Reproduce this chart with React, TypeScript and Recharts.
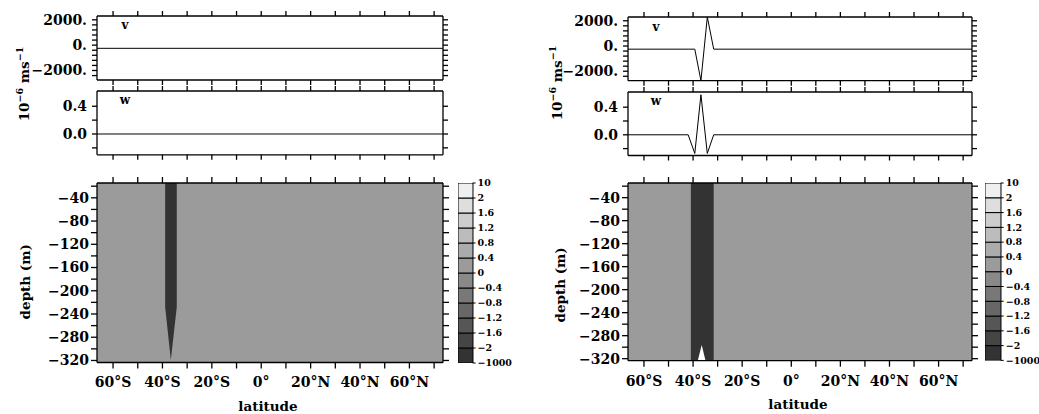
import React from 'react';
import { ComposedChart, LineChart, BarChart, Line, Area, Bar, XAxis, YAxis, Label } from 'recharts';

const FONT = "'DejaVu Serif', serif";
const INK = '#000';

// latitude axis (shared by every panel)
const latDomain: [number, number] = [-66.5, 73.6];
const latTicks = [-60, -50, -40, -30, -20, -10, 0, 10, 20, 30, 40, 50, 60, 70];
const latLabelled = [-60, -40, -20, 0, 20, 40, 60];

// v panel, 10^-6 m/s
const vDomain: [number, number] = [-2750, 2300];
const vTicks = [-2400, -2000, -1600, -1200, -800, -400, 0, 400, 800, 1200, 1600, 2000];
const vLabelled = [-2000, 0, 2000];

// w panel
const wDomain: [number, number] = [-0.3, 0.62];
const wTicks = [-0.2, 0, 0.2, 0.4];
const wLabelled = [0, 0.4];

// depth section
const depthDomain: [number, number] = [-323.5, -14.5];
const depthTicks = [-320, -300, -280, -260, -240, -220, -200, -180, -160, -140, -120, -100, -80, -60, -40, -20];
const depthLabelled = [-320, -280, -240, -200, -160, -120, -80, -40];

// left case: flat profiles
const leftLat = [-66.5, 73.6];
const leftV = [-250, -250];
const leftW = [0, 0];

// right case: a single wiggle near 37S
const rightLat = [-66.5, -42.0, -39.3, -36.8, -34.2, -31.6, 73.6];
const rightV = [-250, -250, -250, -2750, 2300, -250, -250];
const rightW = [0, 0, -0.27, 0.58, -0.27, 0, 0];

// shaded section: background band and the dark plume
const fieldLat = [-66.5, 73.6];
const fieldTop = [-14.5, -14.5];
const fieldBottom = [-323.5, -323.5];

const plumeLeftLat = [-38.9, -36.6, -34.2];
const plumeLeftTop = [-14.5, -14.5, -14.5];
const plumeLeftBottom = [-228, -319, -228];

const plumeRightLat = [-40.9, -31.6];
const plumeRightTop = [-14.5, -14.5];
const plumeRightBottom = [-323.5, -323.5];

const notchRightLat = [-38.1, -36.5, -34.9];
const notchRightTop = [-323.5, -296, -323.5];
const notchRightBottom = [-323.5, -323.5, -323.5];

// colour bar, bottom to top
const levels = ['-1000', '-2', '-1.6', '-1.2', '-0.8', '-0.4', '0', '0.4', '0.8', '1.2', '1.6', '2', '10'];
const levelFills = ['#333333', '#454545', '#565656', '#676767', '#787878', '#898989', '#9b9b9b', '#ababab', '#bcbcbc', '#cdcdcd', '#dedede', '#efefef'];

const minus = (s: string) => s.replace('-', '\u2212');
const latName = (v: number) => (v === 0 ? '0°' : v < 0 ? `${-v}°S` : `${v}°N`);
const band = (xs: number[], lo: number[], hi: number[]) => xs.map((x, i) => ({ lat: x, band: [lo[i], hi[i]] }));
const blank = () => '';

const tickFont = { fill: INK, fontSize: 14, fontFamily: FONT, fontWeight: 700 };
const edge = { stroke: INK, strokeWidth: 1.3 };
const zero = { top: 0, right: 0, bottom: 0, left: 0 };

type Frame = { x0: number; y0: number; x1: number; y1: number };

function ProfilePanel({ f, lat, values, domain, ticks, labelled, fmt, tag }: {
  f: Frame; lat: number[]; values: number[]; domain: [number, number];
  ticks: number[]; labelled: number[]; fmt: (v: number) => string; tag: string;
}) {
  const p = { l: 74, r: 8, t: 7, b: 7 };
  const width = f.x1 - f.x0 + p.l + p.r;
  const height = f.y1 - f.y0 + p.t + p.b;
  const data = lat.map((x, i) => ({ lat: x, val: values[i] }));
  return (
    <div style={{ position: 'absolute', left: f.x0 - p.l, top: f.y0 - p.t, width, height }}>
      <LineChart width={width} height={height} data={data} margin={zero}>
        <XAxis xAxisId="bottom" dataKey="lat" type="number" domain={latDomain} allowDataOverflow ticks={latTicks}
          interval={0} tick={tickFont} tickFormatter={blank} tickSize={5} height={p.b} axisLine={edge} tickLine={edge} />
        <XAxis xAxisId="top" orientation="top" dataKey="lat" type="number" domain={latDomain} allowDataOverflow
          ticks={latTicks} interval={0} tick={tickFont} tickFormatter={blank} tickSize={5} height={p.t}
          axisLine={edge} tickLine={edge} />
        <YAxis yAxisId="left" type="number" domain={domain} allowDataOverflow ticks={ticks} interval={0} width={p.l}
          tickSize={5} tickMargin={5} tick={tickFont} axisLine={edge} tickLine={edge}
          tickFormatter={(v: number) => (labelled.includes(v) ? fmt(v) : '')} />
        <YAxis yAxisId="right" orientation="right" type="number" domain={domain} allowDataOverflow ticks={ticks}
          interval={0} width={p.r} tickSize={5} tick={tickFont} tickFormatter={blank} axisLine={edge} tickLine={edge} />
        <Line xAxisId="bottom" yAxisId="left" dataKey="val" type="linear" stroke={INK} strokeWidth={1}
          dot={false} isAnimationActive={false} />
      </LineChart>
      <div style={{
        position: 'absolute', left: p.l + 28, top: p.t + 9.5, transform: 'translate(-50%, -50%)',
        font: `700 12px ${FONT}`, lineHeight: 1, color: INK,
      }}>{tag}</div>
    </div>
  );
}

function SectionPanel({ f, plumes, depthDx, depthDy }: {
  f: Frame; plumes: { data: { lat: number; band: number[] }[]; fill: string }[]; depthDx: number; depthDy: number;
}) {
  const p = { l: 97, r: 8, t: 7, b: 52 };
  const width = f.x1 - f.x0 + p.l + p.r;
  const height = f.y1 - f.y0 + p.t + p.b;
  const titleFont = { fill: INK, fontSize: 13.5, fontFamily: FONT, fontWeight: 700 };
  return (
    <div style={{ position: 'absolute', left: f.x0 - p.l, top: f.y0 - p.t, width, height }}>
      <ComposedChart width={width} height={height} margin={zero}>
        <XAxis xAxisId="bottom" dataKey="lat" type="number" domain={latDomain} allowDataOverflow ticks={latTicks}
          interval={0} tickSize={6} tickMargin={9} tick={tickFont} height={p.b} axisLine={edge} tickLine={edge}
          tickFormatter={(v: number) => (latLabelled.includes(v) ? latName(v) : '')}>
          <Label content={(props: any) => {
            const vb = props.viewBox;
            return (
              <text x={vb.x + vb.width / 2 - 2} y={vb.y + 48} textAnchor="middle" {...titleFont}>latitude</text>
            );
          }} />
        </XAxis>
        <XAxis xAxisId="top" orientation="top" dataKey="lat" type="number" domain={latDomain} allowDataOverflow
          ticks={latTicks} interval={0} tick={tickFont} tickFormatter={blank} tickSize={6} height={p.t}
          axisLine={edge} tickLine={edge} />
        <YAxis yAxisId="left" type="number" domain={depthDomain} allowDataOverflow ticks={depthTicks} interval={0}
          width={p.l} tickSize={6} tickMargin={2} tick={tickFont} axisLine={edge} tickLine={edge}
          tickFormatter={(v: number) => (depthLabelled.includes(v) ? minus(String(v)) : '')}>
          <Label content={(props: any) => {
            const vb = props.viewBox;
            const cx = vb.x + vb.width - depthDx;
            const cy = vb.y + vb.height / 2 + depthDy;
            return (
              <text x={cx} y={cy} transform={`rotate(-90 ${cx} ${cy})`} textAnchor="middle"
                dominantBaseline="central" {...titleFont}>depth (m)</text>
            );
          }} />
        </YAxis>
        <YAxis yAxisId="right" orientation="right" type="number" domain={depthDomain} allowDataOverflow
          ticks={depthTicks} interval={0} width={p.r} tickSize={6} tick={tickFont} tickFormatter={blank}
          axisLine={edge} tickLine={edge} />
        <Area xAxisId="bottom" yAxisId="left" data={band(fieldLat, fieldBottom, fieldTop)} dataKey="band"
          type="linear" fill={levelFills[6]} fillOpacity={1} stroke="none" isAnimationActive={false} />
        {plumes.map((pl, i) => (
          <Area key={i} xAxisId="bottom" yAxisId="left" data={pl.data} dataKey="band" type="linear"
            fill={pl.fill} fillOpacity={1} stroke="none" isAnimationActive={false} />
        ))}
      </ComposedChart>
    </div>
  );
}

function ColorBar({ f }: { f: Frame }) {
  const p = { l: 0, r: 48, t: 6, b: 6 };
  const width = f.x1 - f.x0 + p.l + p.r;
  const height = f.y1 - f.y0 + p.t + p.b;
  const row: Record<string, number | string> = { k: 'bar' };
  levelFills.forEach((_, i) => { row[`b${i}`] = 1; });
  const idx = levels.map((_, i) => i);
  return (
    <div style={{ position: 'absolute', left: f.x0 - p.l, top: f.y0 - p.t, width, height }}>
      <BarChart width={width} height={height} data={[row]} margin={{ top: p.t, right: 0, bottom: p.b, left: p.l }}
        barCategoryGap={0}>
        <XAxis dataKey="k" hide />
        <YAxis orientation="right" type="number" domain={[0, levelFills.length]} allowDataOverflow ticks={idx}
          interval={0} width={p.r} tickSize={3} tickMargin={2} axisLine={false} tickLine={{ stroke: INK }}
          tick={{ fill: INK, fontSize: 9.5, fontFamily: FONT, fontWeight: 700 }}
          tickFormatter={(i: number) => minus(levels[i])} />
        {levelFills.map((fill, i) => (
          <Bar key={i} dataKey={`b${i}`} stackId="cb" fill={fill} stroke={INK} strokeWidth={1}
            isAnimationActive={false} />
        ))}
      </BarChart>
    </div>
  );
}

function UnitLabel({ cx, cy }: { cx: number; cy: number }) {
  return (
    <div style={{
      position: 'absolute', left: cx, top: cy, transform: 'translate(-50%, -50%) rotate(-90deg)',
      font: `700 13.5px ${FONT}`, whiteSpace: 'nowrap', color: INK, lineHeight: 1.2,
    }}>
      10<sup style={{ fontSize: 9.5 }}>{'\u22126'}</sup> ms<sup style={{ fontSize: 9.5 }}>{'\u22121'}</sup>
    </div>
  );
}

export default function App() {
  const vFmt = (v: number) => minus(`${v}.`);
  const wFmt = (v: number) => v.toFixed(1);
  return (
    <div style={{ position: 'absolute', left: 0, top: 0, width: 1039, height: 414, background: '#fff', overflow: 'hidden' }}>
      {/* left case */}
      <UnitLabel cx={22.5} cy={84} />
      <ProfilePanel f={{ x0: 97, y0: 15.5, x1: 443, y1: 79.5 }} lat={leftLat} values={leftV} domain={vDomain}
        ticks={vTicks} labelled={vLabelled} fmt={vFmt} tag="v" />
      <ProfilePanel f={{ x0: 97, y0: 90.5, x1: 443, y1: 154.3 }} lat={leftLat} values={leftW} domain={wDomain}
        ticks={wTicks} labelled={wLabelled} fmt={wFmt} tag="w" />
      <SectionPanel f={{ x0: 97, y0: 182.5, x1: 443, y1: 362 }} depthDx={72} depthDy={9}
        plumes={[{ data: band(plumeLeftLat, plumeLeftBottom, plumeLeftTop), fill: levelFills[0] }]} />
      <ColorBar f={{ x0: 457.7, y0: 182.5, x1: 472.3, y1: 362.5 }} />

      {/* right case */}
      <UnitLabel cx={555.5} cy={83} />
      <ProfilePanel f={{ x0: 628, y0: 17, x1: 972, y1: 80.7 }} lat={rightLat} values={rightV} domain={vDomain}
        ticks={vTicks} labelled={vLabelled} fmt={vFmt} tag="v" />
      <ProfilePanel f={{ x0: 628, y0: 91.5, x1: 972, y1: 155 }} lat={rightLat} values={rightW} domain={wDomain}
        ticks={wTicks} labelled={wLabelled} fmt={wFmt} tag="w" />
      <SectionPanel f={{ x0: 628, y0: 183.3, x1: 972, y1: 361 }} depthDx={68} depthDy={13}
        plumes={[
          { data: band(plumeRightLat, plumeRightBottom, plumeRightTop), fill: levelFills[0] },
          { data: band(notchRightLat, notchRightBottom, notchRightTop), fill: '#ffffff' },
        ]} />
      <ColorBar f={{ x0: 985, y0: 183.3, x1: 1000.7, y1: 360.7 }} />
    </div>
  );
}
